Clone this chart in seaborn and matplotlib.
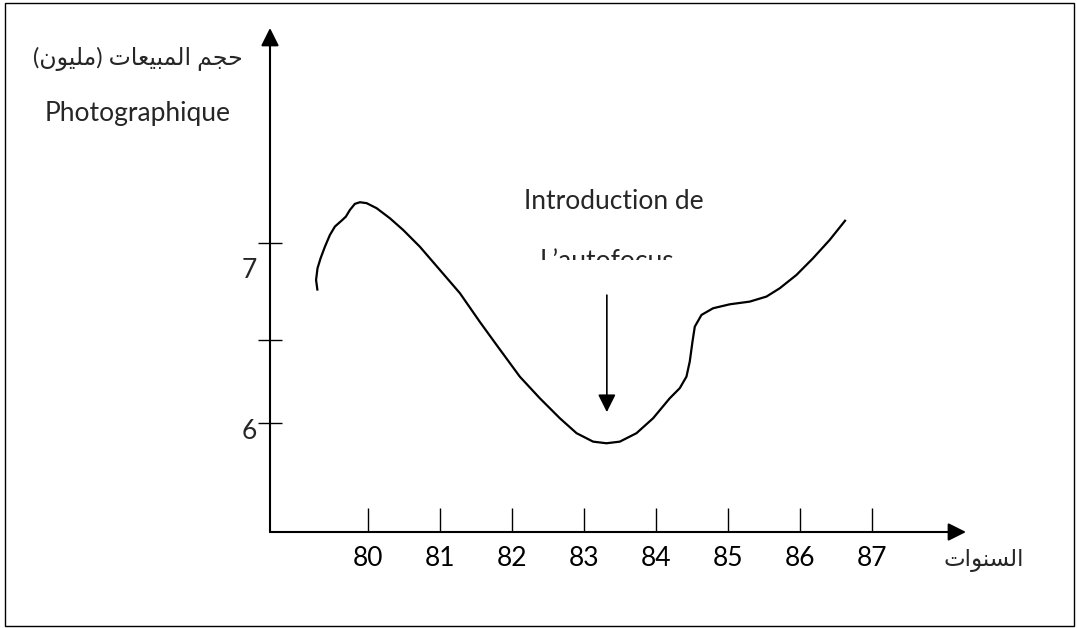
import matplotlib
matplotlib.use("Agg")
import matplotlib.pyplot as plt
import seaborn as sns
from matplotlib.patches import Rectangle
from matplotlib.transforms import Bbox, TransformedBbox

# --- DATA ---
years = [79.30, 79.28, 79.30, 79.343, 79.403, 79.472, 79.542, 79.635, 79.694, 79.75,
         79.819, 79.889, 79.982, 80.121, 80.306, 80.490, 80.722, 81.0, 81.278, 81.556,
         81.788, 82.111, 82.389, 82.667, 82.899, 83.129, 83.315, 83.5, 83.732, 83.963,
         84.194, 84.333, 84.426, 84.472, 84.510, 84.542, 84.635, 84.796, 85.028, 85.306,
         85.538, 85.722, 85.954, 86.185, 86.417, 86.639]
sales = [6.735, 6.794, 6.859, 6.915, 6.979, 7.044, 7.091, 7.124, 7.146, 7.183,
         7.217, 7.226, 7.221, 7.193, 7.137, 7.072, 6.979, 6.85, 6.721, 6.561,
         6.433, 6.257, 6.137, 6.026, 5.943, 5.896, 5.887, 5.896, 5.943, 6.026,
         6.137, 6.193, 6.257, 6.341, 6.452, 6.535, 6.6, 6.637, 6.659, 6.674,
         6.702, 6.748, 6.822, 6.915, 7.017, 7.128]

x_ticks = [80, 81, 82, 83, 84, 85, 86, 87]
x_labels = ["80", "81", "82", "83", "84", "85", "86", "87"]
y_ticks = [7, 6.46, 6]
y_labels = ["7", "", "6"]

y_title_ar = "حجم المبيعات (مليون)"
y_title_fr = "Photographique"
x_title_ar = "السنوات"
note_lines = ["Introduction de", "L’autofocus"]
note_year = 83.32          # arrow points at the trough
note_from, note_to = 6.71, 6.06

# --- ARABIC SHAPING (matplotlib does no joining / rtl) ---
FORMS = {  # isolated, final, initial, medial
    "ا": ("\uFE8D", "\uFE8E", None, None),
    "و": ("\uFEED", "\uFEEE", None, None),
    "ب": ("\uFE8F", "\uFE90", "\uFE91", "\uFE92"),
    "ت": ("\uFE95", "\uFE96", "\uFE97", "\uFE98"),
    "ج": ("\uFE9D", "\uFE9E", "\uFE9F", "\uFEA0"),
    "ح": ("\uFEA1", "\uFEA2", "\uFEA3", "\uFEA4"),
    "س": ("\uFEB1", "\uFEB2", "\uFEB3", "\uFEB4"),
    "ع": ("\uFEC9", "\uFECA", "\uFECB", "\uFECC"),
    "ل": ("\uFEDD", "\uFEDE", "\uFEDF", "\uFEE0"),
    "م": ("\uFEE1", "\uFEE2", "\uFEE3", "\uFEE4"),
    "ن": ("\uFEE5", "\uFEE6", "\uFEE7", "\uFEE8"),
    "ي": ("\uFEF1", "\uFEF2", "\uFEF3", "\uFEF4"),
}
RIGHT_ONLY = set("او")


def shape(text):
    out = []
    for i, ch in enumerate(text):
        if ch not in FORMS:
            out.append(ch)
            continue
        prev = text[i - 1] if i > 0 else ""
        nxt = text[i + 1] if i + 1 < len(text) else ""
        join_prev = prev in FORMS and prev not in RIGHT_ONLY
        join_next = nxt in FORMS and ch not in RIGHT_ONLY
        iso, fin, ini, med = FORMS[ch]
        if join_prev and join_next:
            out.append(med)
        elif join_prev:
            out.append(fin)
        elif join_next:
            out.append(ini)
        else:
            out.append(iso)
    visual = "".join(reversed(out))
    return visual.translate(str.maketrans("()", ")("))


# --- FIGURE ---
sns.set_style("white")
plt.rcParams["font.family"] = ["Lato", "DejaVu Sans"]

W, H = 1077, 628
fig = plt.figure(figsize=(W / 100, H / 100), dpi=100)


def fx(x):
    return x / W


def fy(y):
    return 1 - y / H


# outer frame
fig.patches.append(Rectangle((fx(5), fy(626)), fx(1069), 623 / H, transform=fig.transFigure,
                             fill=False, lw=1, ec="black"))

ax = fig.add_axes([fx(270), fy(532), fx(966 - 270), (532 - 28) / H])
ax.set_xlim(78.64, 88.31)
ax.set_ylim(5.394, 8.194)
for s in ax.spines.values():
    s.set_visible(False)

sns.lineplot(x=years, y=sales, sort=False, estimator=None, color="black", linewidth=1.6,
             solid_joinstyle="round", solid_capstyle="butt", ax=ax)
ax.set_xlabel("")
ax.set_ylabel("")

# axes drawn as arrows
arrow_kw = dict(arrowstyle="-|>", color="black", lw=1.5, shrinkA=0, shrinkB=0, mutation_scale=27)
ax.annotate("", xy=(1, 0), xytext=(0, 0), xycoords="axes fraction", arrowprops=arrow_kw)
ax.annotate("", xy=(0, 1), xytext=(0, 0), xycoords="axes fraction", arrowprops=arrow_kw)

ax.set_xticks(x_ticks, x_labels)
ax.tick_params(axis="x", bottom=True, direction="in", length=17, width=1, pad=10,
               labelsize=19, colors="black")
ax.set_yticks(y_ticks, [""] * len(y_ticks))
ax.tick_params(axis="y", left=True, direction="inout", length=17, width=1, colors="black")

# hand-placed y labels, sitting just under their ticks
y_label_drop = [20, 0, 6]
for v, lab, d in zip(y_ticks, y_labels, y_label_drop):
    ax.annotate(lab, xy=(0, v), xycoords=ax.get_yaxis_transform(), xytext=(-15, -d),
                textcoords="offset points", ha="center", va="center", fontsize=19)

# titles
fig.text(fx(138), fy(59), shape(y_title_ar), ha="center", va="center", fontsize=17)
fig.text(fx(138), fy(121), y_title_fr, ha="center", va="baseline", fontsize=19)
fig.text(fx(984), fy(560), shape(x_title_ar), ha="center", va="center", fontsize=16.5)

# note with half-hidden second line
fig.text(fx(614), fy(209), note_lines[0], ha="center", va="baseline", fontsize=19)
t = fig.text(fx(607), fy(249), note_lines[1], ha="center", va="top", fontsize=19)
t.set_clip_box(TransformedBbox(Bbox([[0, fy(260)], [1, 1]]), fig.transFigure))
t.set_clip_on(True)

ax.annotate("", xy=(note_year, note_to), xytext=(note_year, note_from),
            arrowprops=dict(arrowstyle="-|>", color="black", lw=1.2, shrinkA=0, shrinkB=0,
                            mutation_scale=27))

fig.savefig("out.png", dpi=100)
